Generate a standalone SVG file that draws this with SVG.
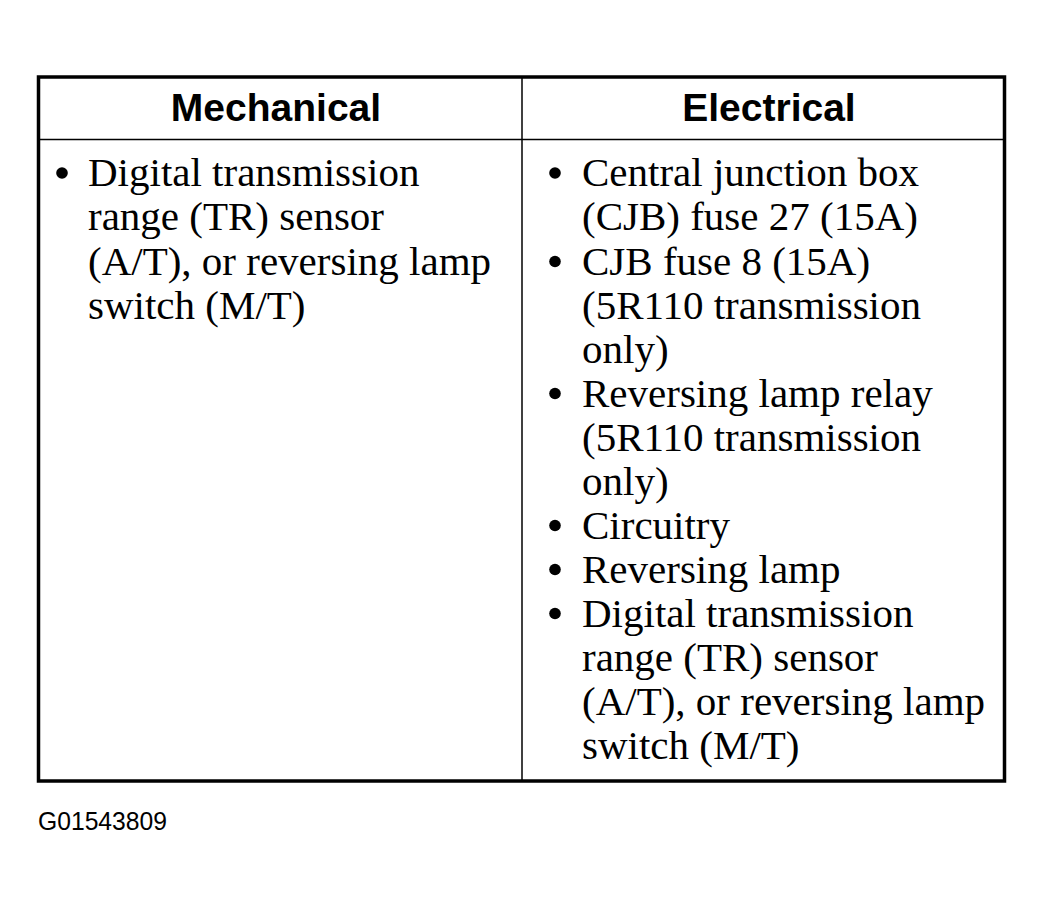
<svg xmlns="http://www.w3.org/2000/svg" width="1044" height="903" viewBox="0 0 1044 903">
<style>
.head{font-family:"Liberation Sans",Arial,sans-serif;font-weight:bold;font-size:39px;fill:#000;text-anchor:middle}
.body{font-family:"Liberation Serif","Times New Roman",serif;font-size:41px;fill:#000}
.bul{fill:#000;stroke:none}
.thin{stroke:#000;stroke-width:1.5;fill:none}
.frame{stroke:#000;stroke-width:3.5;fill:none}
.code{font-family:"Liberation Sans",Arial,sans-serif;font-size:25px;fill:#000}
</style>
<rect width="1044" height="903" fill="#fff"/>
<g id="table-lines">
<line class="thin" x1="522" y1="77" x2="522" y2="781"/>
<line class="thin" x1="38" y1="139.5" x2="1004" y2="139.5"/>
<rect class="frame" x="38.5" y="77" width="966" height="704"/>
</g>
<g id="header-mechanical">
<text class="head" x="276" y="121">Mechanical</text>
</g>
<g id="header-electrical">
<text class="head" x="769" y="121">Electrical</text>
</g>
<g id="cell-mechanical">
<circle class="bul" cx="62" cy="173" r="5.8"/>
<text class="body" x="88" y="186">Digital transmission</text>
<text class="body" x="88" y="230">range (TR) sensor</text>
<text class="body" x="88" y="274.5">(A/T), or reversing lamp</text>
<text class="body" x="88" y="318.5">switch (M/T)</text>
</g>
<g id="cell-electrical">
<circle class="bul" cx="555" cy="173" r="5.8"/>
<text class="body" x="582" y="186">Central junction box</text>
<text class="body" x="582" y="230">(CJB) fuse 27 (15A)</text>
<circle class="bul" cx="555" cy="261.5" r="5.8"/>
<text class="body" x="582" y="274.5">CJB fuse 8 (15A)</text>
<text class="body" x="582" y="318.5">(5R110 transmission</text>
<text class="body" x="582" y="362.5">only)</text>
<circle class="bul" cx="555" cy="393.5" r="5.8"/>
<text class="body" x="582" y="406.5">Reversing lamp relay</text>
<text class="body" x="582" y="450.5">(5R110 transmission</text>
<text class="body" x="582" y="494.5">only)</text>
<circle class="bul" cx="555" cy="525.5" r="5.8"/>
<text class="body" x="582" y="538.5">Circuitry</text>
<circle class="bul" cx="555" cy="569.5" r="5.8"/>
<text class="body" x="582" y="582.5">Reversing lamp</text>
<circle class="bul" cx="555" cy="613.5" r="5.8"/>
<text class="body" x="582" y="626.5">Digital transmission</text>
<text class="body" x="582" y="670.5">range (TR) sensor</text>
<text class="body" x="582" y="714.5">(A/T), or reversing lamp</text>
<text class="body" x="582" y="758.5">switch (M/T)</text>
</g>
<g id="figure-code">
<text class="code" x="38" y="830" textLength="129" lengthAdjust="spacingAndGlyphs">G01543809</text>
</g>
</svg>
